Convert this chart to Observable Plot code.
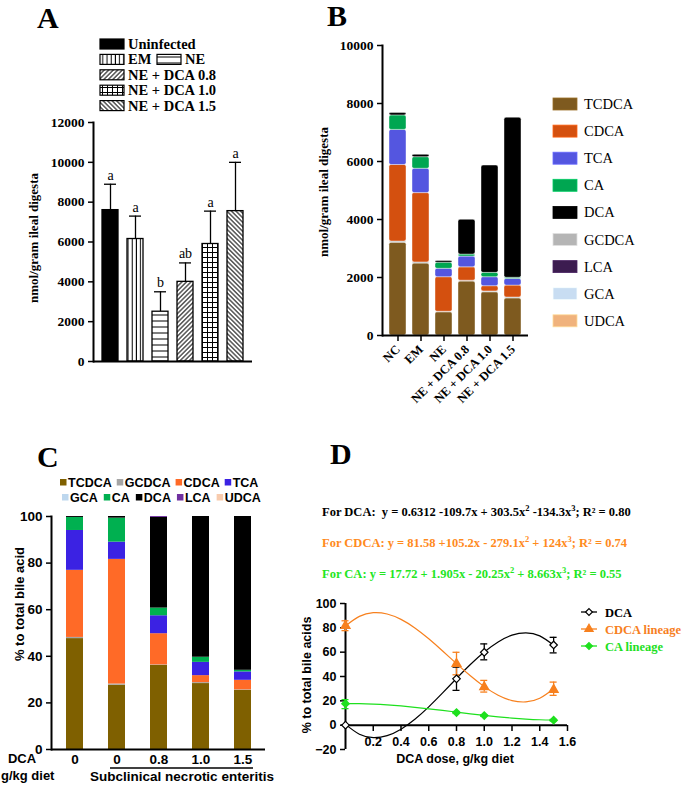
<!DOCTYPE html>
<html><head><meta charset="utf-8">
<script src="https://cdn.jsdelivr.net/npm/d3@7"></script>
<script src="https://cdn.jsdelivr.net/npm/@observablehq/plot@0.6"></script>
<style>
body{margin:0;background:#fff;}
#root{position:relative;width:685px;height:787px;overflow:hidden;background:#fff;}
#root svg{position:absolute;overflow:visible;}
</style></head><body><div id="root"></div>
<script>
// ---------- Panel A data ----------
const groupsA = ["Uninfected","EM","NE","NE + DCA 0.8","NE + DCA 1.0","NE + DCA 1.5"];
const meansA = [7600, 6150, 2500, 4000, 5900, 7550];
const errTopA = [8900, 7300, 3500, 4950, 7550, 10000];
const lettersA = ["a","a","b","ab","a","a"];
const fillsA = ["black","url(#pVert)","url(#pHoriz)","url(#pDiagR)","url(#pGrid)","url(#pDiagL)"];
const ticksA = [0,2000,4000,6000,8000,10000,12000];

// ---------- Panel B data ----------
const groupsB = ["NC","EM","NE","NE + DCA 0.8","NE + DCA 1.0","NE + DCA 1.5"];
const acidsB = ["TCDCA","GCDCA","CDCA","TCA","CA","DCA","LCA","GCA","UDCA"];
const legendB = ["TCDCA","CDCA","TCA","CA","DCA","GCDCA","LCA","GCA","UDCA"];
const colorsB = ["#7e5a1f","#b5b5b5","#d4500f","#5456e0","#00a651","#000000","#3c1c50","#c8ddf2","#f0b27c"];
const bTCDCA = [3200, 2480, 800, 1860, 1490, 1280];
const bGCDCA = [40, 40, 20, 30, 30, 30];
const bCDCA  = [2640, 2390, 1190, 460, 180, 410];
const bTCA   = [1210, 840, 290, 370, 310, 230];
const bCA    = [500, 400, 210, 70, 150, 40];
const bDCA   = [80, 80, 60, 1200, 3700, 5520];
const bLCA   = [0, 0, 0, 0, 0, 0];
const bGCA   = [0, 0, 0, 0, 0, 0];
const bUDCA  = [0, 0, 0, 0, 0, 0];
const ticksB = [0,2000,4000,6000,8000,10000];

// ---------- Panel C data ----------
const keysC = ["c1","c2","c3","c4","c5"];
const doseLabelsC = ["0","0","0.8","1.0","1.5"];
const acidsC = ["TCDCA","GCDCA","CDCA","TCA","GCA","CA","DCA","LCA","UDCA"];
const colorsC = ["#7f6000","#a5a5a5","#ff6a27","#3b22e3","#bdd7ee","#00b050","#000000","#7030a0","#f8cbad"];
const legendRow1C = ["TCDCA","GCDCA","CDCA","TCA"];
const legendRow2C = ["GCA","CA","DCA","LCA","UDCA"];
const cTCDCA = [47.6, 27.6, 36.1, 28.3, 25.4];
const cGCDCA = [0.5, 0.5, 0.2, 0.4, 0.2];
const cCDCA  = [28.8, 53.5, 13.4, 3.0, 4.1];
const cTCA   = [17.1, 7.4, 7.7, 5.7, 3.6];
const cGCA   = [0, 0, 0, 0, 0];
const cCA    = [5.6, 10.3, 3.3, 2.2, 0.7];
const cDCA   = [0.4, 0.7, 38.9, 60.4, 66.0];
const cLCA   = [0, 0, 0.4, 0, 0];
const cUDCA  = [0, 0, 0, 0, 0];
const ticksC = [0,20,40,60,80,100];

// ---------- Panel D data ----------
const doseD = [0, 0.8, 1.0, 1.5];
const dcaMean = [0, 38.1, 59.9, 65.9];
const dcaLo   = [0, 28.6, 53.7, 59.4];
const dcaHi   = [0, 47.7, 66.8, 72.2];
const cdcaMean = [81.7, 50.4, 31.3, 29.2];
const cdcaLo   = [77.7, 41.4, 27.2, 24.5];
const cdcaHi   = [85.8, 59.9, 36.8, 35.4];
const caMean = [17.7, 10.4, 7.9, 4.1];
const caLo   = [13.6, 9.6, 7.2, 3.5];
const caHi   = [21.0, 11.2, 8.6, 4.7];
const curveX  = [0,0.1,0.2,0.3,0.4,0.5,0.6,0.7,0.8,0.9,1.0,1.1,1.2,1.3,1.4,1.5];
const dcaFit  = [0.63,-7.44,-10.24,-8.59,-3.28,4.87,15.06,26.49,38.35,49.83,60.13,68.44,73.96,75.88,73.39,65.70];
const cdcaFit = [81.58,89.43,92.45,91.37,86.94,79.91,71.01,60.99,50.60,40.59,31.68,24.63,20.19,19.09,22.08,29.91];
const caFit   = [17.72,17.72,17.36,16.70,15.80,14.69,13.44,12.10,10.72,9.35,8.04,6.84,5.82,5.01,4.47,4.25];
const xTicksD = [0.2,0.4,0.6,0.8,1.0,1.2,1.4,1.6];
const yTicksD = [-20,0,20,40,60,80,100];
const seriesD = ["DCA","CDCA lineage","CA lineage"];
const colorsD = ["#000000","#f7801e","#1ee01e"];
const eqColors = ["#000000","#ff8a1c","#22e622"];
const eqParts = [
  [["For DCA:  y = 0.6312 -109.7x + 303.5x",0],["2",1],[" -134.3x",0],["3",1],["; R² = 0.80",0]],
  [["For CDCA: y = 81.58 +105.2x - 279.1x",0],["2",1],[" + 124x",0],["3",1],["; R² = 0.74",0]],
  [["For CA: y = 17.72 + 1.905x - 20.25x",0],["2",1],[" + 8.663x",0],["3",1],["; R² = 0.55",0]]
];

const SERIF = "Liberation Serif, Times New Roman, serif";
const SANS = "Liberation Sans, Arial, sans-serif";
const root = document.getElementById("root");
function mount(svg, left, top){ svg.style.left = left+"px"; svg.style.top = top+"px"; root.appendChild(svg); }

// overlay with pattern defs + free texts
const ov = d3.select(root).append("svg").attr("width",685).attr("height",787).style("left","0px").style("top","0px");
const defs = ov.append("defs");
function pat(id, w, h, rot, lines){
  const p = defs.append("pattern").attr("id",id).attr("width",w).attr("height",h).attr("patternUnits","userSpaceOnUse");
  if (rot) p.attr("patternTransform",`rotate(${rot})`);
  p.append("rect").attr("width",w).attr("height",h).attr("fill","white");
  lines.forEach(l => p.append("line").attr("x1",l[0]).attr("y1",l[1]).attr("x2",l[2]).attr("y2",l[3]).attr("stroke","black").attr("stroke-width",1));
}
pat("pVert", 4.2, 10, 0, [[2,0,2,10]]);
pat("pHoriz", 10, 6, 0, [[0,3,10,3]]);
pat("pDiagR", 3.2, 10, 45, [[1.6,0,1.6,10]]);
pat("pDiagL", 3.2, 10, -45, [[1.6,0,1.6,10]]);
pat("pGrid", 5, 5, 0, [[2.5,0,2.5,5],[0,2.5,5,2.5]]);

function txt(x, y, s, o = {}){
  const t = ov.append("text").attr("x",x).attr("y",y).text(s)
    .attr("font-family", o.family || SERIF).attr("font-size", o.size || 13)
    .attr("font-weight", o.weight || "normal").attr("fill", o.fill || "black")
    .attr("text-anchor", o.anchor || "start").style("white-space","pre");
  if (o.rotate) t.attr("transform", `rotate(${o.rotate},${x},${y})`);
  return t;
}

// ---------- Panel A ----------
const dataA = groupsA.map((g,i) => ({g, mean: meansA[i], hi: errTopA[i], letter: lettersA[i], fill: fillsA[i]}));
const plotA = Plot.plot({
  width: 340, height: 380, marginTop: 122, marginBottom: 19, marginLeft: 93, marginRight: 88,
  x: {domain: groupsA, padding: 0.35, axis: null},
  y: {domain: [0, 12000]},
  color: {type: "identity"},
  style: {fontFamily: SERIF, background: "transparent", overflow: "visible"},
  marks: [
    Plot.ruleX(dataA, {x: "g", y1: "mean", y2: "hi", strokeWidth: 1.3}),
    Plot.tickY(dataA, {x: "g", y: "hi", strokeWidth: 1.3, inset: 2}),
    Plot.barY(dataA, {x: "g", y: "mean", fill: "fill", stroke: "black", strokeWidth: 1.3}),
    Plot.text(dataA, {x: "g", y: "hi", text: "letter", dy: -9, fontSize: 14}),
    Plot.axisY({ticks: ticksA, tickFormat: d => String(d), tickSize: 5, strokeWidth: 1.5, fontWeight: "bold", fontSize: 13.5, label: null}),
    Plot.ruleY([0], {strokeWidth: 2}),
    Plot.frame({anchor: "left", strokeWidth: 2})
  ]
});
mount(plotA, 0, 0);

// ---------- Panel B ----------
const seriesB = [bTCDCA,bGCDCA,bCDCA,bTCA,bCA,bDCA,bLCA,bGCA,bUDCA];
const dataB = [];
groupsB.forEach((g,i) => acidsB.forEach((a,k) => dataB.push({g, acid: a, v: seriesB[k][i]})));
const plotB = Plot.plot({
  width: 200, height: 400, marginTop: 45, marginBottom: 65, marginLeft: 42, marginRight: 12,
  x: {domain: groupsB, padding: 0.26, label: null},
  y: {domain: [0, 10000]},
  color: {domain: acidsB, range: colorsB},
  style: {fontFamily: SERIF, background: "transparent", overflow: "visible"},
  marks: [
    Plot.barY(dataB, {x: "g", y: "v", fill: "acid", stroke: "white", strokeOpacity: 0.6, strokeWidth: 0.7, rx: 2}),
    Plot.axisY({ticks: ticksB, tickFormat: d => String(d), tickSize: 5, strokeWidth: 1.5, fontWeight: "bold", fontSize: 13.5, label: null}),
    Plot.axisX({tickRotate: -45, tickSize: 6, strokeWidth: 1.5, fontWeight: "bold", fontSize: 12.5, label: null}),
    Plot.ruleY([0], {strokeWidth: 2}),
    Plot.frame({anchor: "left", strokeWidth: 2})
  ]
});
mount(plotB, 340, 0);

// ---------- Panel C ----------
const seriesC = [cTCDCA,cGCDCA,cCDCA,cTCA,cGCA,cCA,cDCA,cLCA,cUDCA];
const dataC = [];
keysC.forEach((g,i) => acidsC.forEach((a,k) => dataC.push({g, acid: a, v: seriesC[k][i]})));
const labelC = Object.fromEntries(keysC.map((k,i) => [k, doseLabelsC[i]]));
const plotC = Plot.plot({
  width: 280, height: 280, marginTop: 16, marginBottom: 31, marginLeft: 51, marginRight: 15,
  x: {domain: keysC, paddingInner: 0.6, paddingOuter: 0.29, label: null},
  y: {domain: [0, 100]},
  color: {domain: acidsC, range: colorsC},
  style: {fontFamily: SANS, background: "transparent", overflow: "visible"},
  marks: [
    Plot.barY(dataC, {x: "g", y: "v", fill: "acid"}),
    Plot.axisY({ticks: ticksC, tickSize: 5, strokeWidth: 1.5, fontWeight: "bold", fontSize: 13.5, label: null}),
    Plot.axisX({tickSize: 0, tickPadding: 5, tickFormat: d => labelC[d], fontWeight: "bold", fontSize: 13.5, label: null}),
    Plot.ruleY([0], {strokeWidth: 2}),
    Plot.frame({anchor: "left", strokeWidth: 2})
  ]
});
mount(plotC, 0, 500);

// ---------- Panel D ----------
const mk = (mean, lo, hi, s) => doseD.map((x,i) => ({x, y: mean[i], lo: lo[i], hi: hi[i], s}));
const ptsDCA = mk(dcaMean, dcaLo, dcaHi, seriesD[0]);
const ptsCDCA = mk(cdcaMean, cdcaLo, cdcaHi, seriesD[1]);
const ptsCA = mk(caMean, caLo, caHi, seriesD[2]);
const allPts = [...ptsDCA, ...ptsCDCA, ...ptsCA];
const fitRows = [];
[dcaFit, cdcaFit, caFit].forEach((arr,k) => curveX.forEach((x,i) => fitRows.push({x, y: arr[i], s: seriesD[k]})));
const plotD = Plot.plot({
  width: 280, height: 190, marginTop: 13, marginBottom: 31, marginLeft: 45, marginRight: 13,
  x: {domain: [0, 1.6]},
  y: {domain: [-20, 100]},
  color: {domain: seriesD, range: colorsD},
  style: {fontFamily: SANS, background: "transparent", overflow: "visible"},
  marks: [
    Plot.ruleY([0], {strokeWidth: 2}),
    Plot.ruleX([0], {strokeWidth: 2}),
    Plot.axisY({ticks: yTicksD, tickSize: 5, strokeWidth: 1.5, fontWeight: "bold", fontSize: 12.5, label: null}),
    Plot.axisX({ticks: xTicksD, tickFormat: d => d.toFixed(1), dy: -24, tickSize: 6, tickPadding: 6, strokeWidth: 1.5, fontWeight: "bold", fontSize: 12.5, label: null}),
    Plot.line(fitRows, {x: "x", y: "y", z: "s", stroke: "s", strokeWidth: 1.2, curve: "natural"}),
    Plot.ruleX(allPts, {x: "x", y1: "lo", y2: "hi", stroke: "s", strokeWidth: 1.3}),
    Plot.ruleY(allPts, {y: "hi", x1: "x", x2: "x", insetLeft: -3.5, insetRight: -3.5, stroke: "s", strokeWidth: 1.3}),
    Plot.ruleY(allPts, {y: "lo", x1: "x", x2: "x", insetLeft: -3.5, insetRight: -3.5, stroke: "s", strokeWidth: 1.3}),
    Plot.dot(ptsCA, {x: "x", y: "y", symbol: "diamond2", r: 3.2, fill: colorsD[2], stroke: colorsD[2]}),
    Plot.dot(ptsCDCA, {x: "x", y: "y", symbol: "triangle", r: 3.2, fill: colorsD[1], stroke: colorsD[1]}),
    Plot.dot(ptsDCA, {x: "x", y: "y", symbol: "diamond2", r: 3.4, fill: "white", stroke: "black", strokeWidth: 1.2})
  ]
});
mount(plotD, 300, 590);

// ---------- free texts ----------
txt(37, 28, "A", {size: 30, weight: "bold"});
txt(327, 26, "B", {size: 30, weight: "bold"});
txt(37, 467, "C", {size: 30, weight: "bold"});
txt(330, 464, "D", {size: 30, weight: "bold"});

// A legend
const legA = [
  {x: 100, row: 0, fill: "black", label: "Uninfected"},
  {x: 100, row: 1, fill: "url(#pVert)", label: "EM"},
  {x: 157, row: 1, fill: "url(#pHoriz)", label: "NE"},
  {x: 100, row: 2, fill: "url(#pDiagR)", label: "NE + DCA 0.8"},
  {x: 100, row: 3, fill: "url(#pGrid)", label: "NE + DCA 1.0"},
  {x: 100, row: 4, fill: "url(#pDiagL)", label: "NE + DCA 1.5"}
];
legA.forEach(d => {
  const top = 39 + d.row * 15.4;
  ov.append("rect").attr("x", d.x).attr("y", top).attr("width", 24).attr("height", 10).attr("fill", d.fill).attr("stroke","black").attr("stroke-width",1.2);
  txt(d.x + 28, top + 10, d.label, {size: 14.5, weight: "bold"});
});
txt(38, 238, "nmol/gram ileal digesta", {size: 13, weight: "bold", anchor: "middle", rotate: -90});

// B legend
legendB.forEach((a,i) => {
  const cy = 104 + i * 27.1;
  const col = colorsB[acidsB.indexOf(a)];
  ov.append("rect").attr("x", 553).attr("y", cy - 6).attr("width", 24).attr("height", 12).attr("fill", col).attr("stroke", d3.color(col).brighter(0.6)).attr("stroke-width", 0.8);
  txt(584, cy + 5, a, {size: 14.5});
});
txt(328, 192, "nmol/gram ileal digesta", {size: 13, weight: "bold", anchor: "middle", rotate: -90});

// C legend
function legRowC(items, x0, y, gaps){
  let x = x0;
  items.forEach(a => {
    const col = colorsC[acidsC.indexOf(a)];
    ov.append("rect").attr("x", x).attr("y", y - 8).attr("width", 6.5).attr("height", 6.5).attr("fill", col);
    const t = txt(x + 8, y, a, {family: SANS, size: 12.5, weight: "bold"});
    x = x + 8 + t.node().getComputedTextLength() + gaps;
  });
}
legRowC(legendRow1C, 60, 487, 5);
legRowC(legendRow2C, 62, 502, 6);
txt(24, 604, "% to total bile acid", {family: SANS, size: 13, weight: "bold", anchor: "middle", rotate: -90});
txt(22, 763, "DCA", {family: SANS, size: 13, weight: "bold", anchor: "middle"});
txt(1, 780, "g/kg diet", {family: SANS, size: 13, weight: "bold"});
ov.append("line").attr("x1", 110).attr("x2", 253).attr("y1", 768).attr("y2", 768).attr("stroke","black").attr("stroke-width",1.5);
txt(182, 781, "Subclinical necrotic enteritis", {family: SANS, size: 13.5, weight: "bold", anchor: "middle"});

// D equations
eqParts.forEach((parts,i) => {
  const t = ov.append("text").attr("x", 322).attr("y", 516 + i * 31).attr("font-family", SERIF).attr("font-size", 12.5)
    .attr("font-weight","bold").attr("fill", eqColors[i]).style("white-space","pre");
  let prevSup = false;
  parts.forEach(p => {
    const sup = p[1] === 1;
    const dy = sup ? -5 : (prevSup ? 5 : 0);
    t.append("tspan").attr("dy", dy).attr("font-size", sup ? 8.5 : 12.5).text(p[0]);
    prevSup = sup;
  });
});
txt(311, 675, "% to total bile acids", {family: SANS, size: 12.5, weight: "bold", anchor: "middle", rotate: -90});
txt(455, 763, "DCA dose, g/kg diet", {family: SANS, size: 12.5, weight: "bold", anchor: "middle"});

// D legend
const symD = [d3.symbolDiamond2 || d3.symbolDiamond, d3.symbolTriangle, d3.symbolDiamond2 || d3.symbolDiamond];
seriesD.forEach((s,i) => {
  const cy = 612 + i * 17;
  ov.append("line").attr("x1", 581).attr("x2", 597).attr("y1", cy).attr("y2", cy).attr("stroke", colorsD[i]).attr("stroke-width", 1.3);
  ov.append("path").attr("d", d3.symbol(symD[i], 30)()).attr("transform", `translate(589,${cy})`)
    .attr("fill", i === 0 ? "white" : colorsD[i]).attr("stroke", colorsD[i]).attr("stroke-width", 1.2);
  txt(605, cy + 4.5, s, {size: 12.5, weight: "bold", fill: colorsD[i]});
});
</script></body></html>
